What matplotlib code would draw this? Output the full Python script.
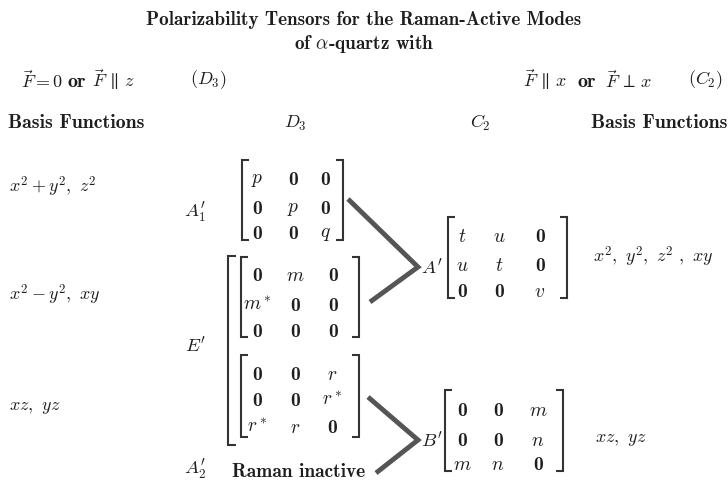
import matplotlib
matplotlib.use("Agg")
import matplotlib.pyplot as plt

plt.rcParams['mathtext.fontset'] = 'cm'
plt.rcParams['font.family'] = 'cmr10'

# --- content ---
title_lines = ["Polarizability Tensors for the Raman-Active Modes", r"of $\alpha$-quartz with"]
left_case = [r"$\vec{F}=0$", "or", r"$\vec{F}\,\parallel\,z$"]
right_case = [r"$\vec{F}\,\parallel\,x$", "or", r"$\vec{F}\,\perp\,x$"]
left_group = r"$(D_3)$"
right_group = r"$(C_2)$"
col_heads = ["Basis Functions", r"$D_3$", r"$C_2$", "Basis Functions"]

d3_basis = [r"$x^2+y^2,\ z^2$", r"$x^2-y^2,\ xy$", r"$xz,\ yz$"]
c2_basis = [r"$x^2,\ y^2,\ z^2\ ,\ xy$", r"$xz,\ yz$"]

Z = "0"  # drawn bold
A1_label = r"$A_1'$"
A1_tensor = [[r"$p$", Z, Z], [Z, r"$p$", Z], [Z, Z, r"$q$"]]
E_label = r"$E'$"
E_tensor_1 = [[Z, r"$m$", Z], [r"$m^*$", Z, Z], [Z, Z, Z]]
E_tensor_2 = [[Z, Z, r"$r$"], [Z, Z, r"$r^*$"], [r"$r^*$", r"$r$", Z]]
A2_label = r"$A_2'$"
A2_note = "Raman inactive"
Ap_label = r"$A'$"
Ap_tensor = [[r"$t$", r"$u$", Z], [r"$u$", r"$t$", Z], [Z, Z, r"$v$"]]
Bp_label = r"$B'$"
Bp_tensor = [[Z, Z, r"$m$"], [Z, Z, r"$n$"], [r"$m$", r"$n$", Z]]

ink = '#1e1e1e'
line_gray = '#555555'

fig = plt.figure(figsize=(7.28, 4.84), dpi=100)
ax = fig.add_axes([0, 0, 1, 1])
ax.set_xlim(0, 728)
ax.set_ylim(484, 0)
ax.axis('off')


def bracket(x, y0, y1, side, tick=7, lw=1.5):
    d = tick if side == 'l' else -tick
    ax.plot([x + d, x, x, x + d], [y0, y0, y1, y1], color='#333333', lw=lw,
            solid_capstyle='butt', solid_joinstyle='miter')


def matrix(entries, xl, xr, yt, yb, cols, rows, fs=14):
    bracket(xl, yt, yb, 'l')
    bracket(xr, yt, yb, 'r')
    for i, row in enumerate(entries):
        for j, val in enumerate(row):
            fam = 'cmb10' if val == Z else 'cmr10'
            ax.text(cols[j], rows[i], val, fontsize=fs, fontfamily=fam,
                    color=ink, ha='center', va='center')


# title
ax.text(364, 20, title_lines[0], fontsize=13.8, fontfamily='cmb10', ha='center', va='center', color=ink)
ax.text(364, 44, title_lines[1], fontsize=13.8, fontfamily='cmb10', ha='center', va='center', color=ink)

# field cases
ax.text(21, 80, left_case[0], fontsize=13, va='center', ha='left', color=ink)
ax.text(67, 82, left_case[1], fontsize=14.5, fontfamily='cmb10', va='center', ha='left', color=ink)
ax.text(92, 80, left_case[2], fontsize=13, va='center', ha='left', color=ink)
ax.text(190, 80, left_group, fontsize=13, va='center', ha='left', color=ink)
ax.text(523, 80, right_case[0], fontsize=13, va='center', ha='left', color=ink)
ax.text(578, 82, right_case[1], fontsize=14.5, fontfamily='cmb10', va='center', ha='left', color=ink)
ax.text(605, 80, right_case[2], fontsize=13, va='center', ha='left', color=ink)
ax.text(688, 80, right_group, fontsize=13, va='center', ha='left', color=ink)

# column heads
ax.text(8, 123, col_heads[0], fontsize=14.3, fontfamily='cmb10', va='center', ha='left', color=ink)
ax.text(295, 123, col_heads[1], fontsize=13, va='center', ha='center', color=ink)
ax.text(480, 123, col_heads[2], fontsize=13, va='center', ha='center', color=ink)
ax.text(727, 123, col_heads[3], fontsize=14.3, fontfamily='cmb10', va='center', ha='right', color=ink)

# D3 basis functions
for txt, yy in zip(d3_basis, [187, 295, 408]):
    ax.text(9, yy, txt, fontsize=13, va='center', ha='left', color=ink)

# D3 tensors
ax.text(184, 212, A1_label, fontsize=13.5, va='center', ha='left', color=ink)
matrix(A1_tensor, 242, 343, 160, 240, [257, 293, 325], [180, 209, 234])

ax.text(185, 346, E_label, fontsize=13.5, va='center', ha='left', color=ink)
bracket(228, 256, 445, 'l', tick=8)
matrix(E_tensor_1, 241, 359, 257, 337, [257, 295, 333], [276, 306, 332])
matrix(E_tensor_2, 241, 359, 355, 437, [257, 295, 332], [375, 401, 428])

ax.text(184, 469, A2_label, fontsize=13.5, va='center', ha='left', color=ink)
ax.text(232, 472, A2_note, fontsize=14, fontfamily='cmb10', va='center', ha='left', color=ink)

# correlation lines
ax.plot([348, 418, 370], [199, 267, 302], color=line_gray, lw=3.5, solid_joinstyle='miter', solid_capstyle='butt')
ax.plot([368, 418, 376], [397, 440, 473], color=line_gray, lw=3.5, solid_joinstyle='miter', solid_capstyle='butt')

# C2 tensors
ax.text(421, 268, Ap_label, fontsize=13.5, va='center', ha='left', color=ink)
matrix(Ap_tensor, 448, 567, 217, 298, [462, 499, 540], [237, 266, 292])
ax.text(421, 441, Bp_label, fontsize=13.5, va='center', ha='left', color=ink)
matrix(Bp_tensor, 445, 563, 390, 471, [462, 498, 538], [411, 441, 465])

# C2 basis functions
ax.text(593, 257, c2_basis[0], fontsize=13, va='center', ha='left', color=ink)
ax.text(595, 440, c2_basis[1], fontsize=13, va='center', ha='left', color=ink)

fig.savefig("out.png", dpi=100)
